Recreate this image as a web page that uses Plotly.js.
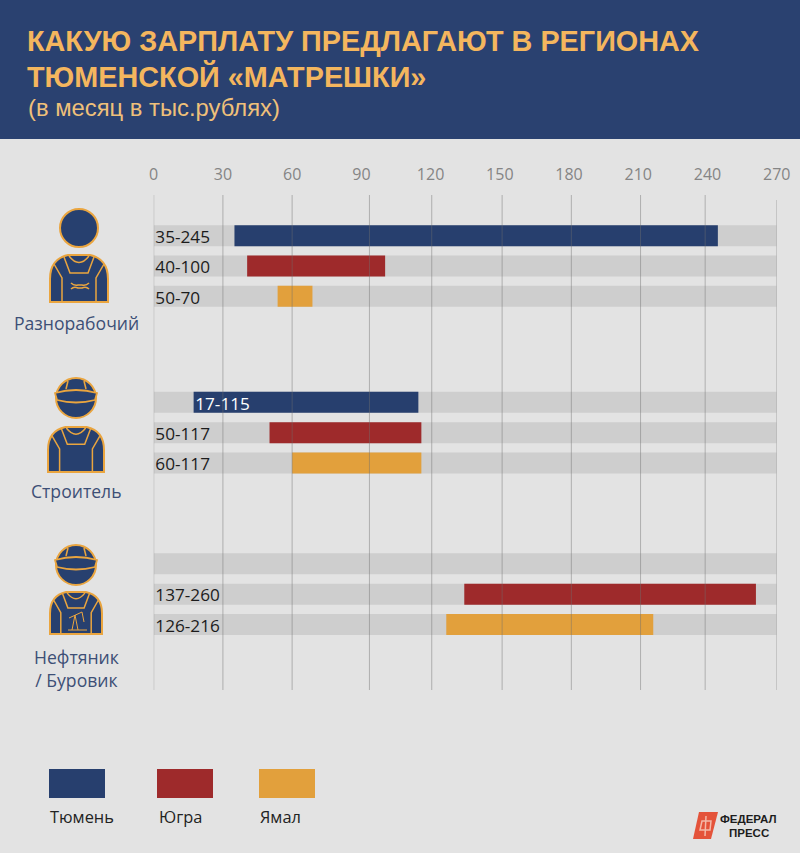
<!DOCTYPE html>
<html>
<head>
<meta charset="utf-8">
<script src="https://cdn.plot.ly/plotly-3.0.1.min.js"></script>
<style>html,body{margin:0;padding:0;background:#e3e3e3}</style>
</head>
<body>
<div id="chart" style="width:800px;height:853px"></div>
<script>
var professions = ['Разнорабочий', 'Строитель', 'Нефтяник<br>/ Буровик'];
var regions = ['Тюмень', 'Югра', 'Ямал'];
var regionColors = ['#273f6e', '#9e2a2b', '#e2a03c'];

// начало и конец полос (по профессиям)
var tyumenFrom = [35, 17.3, null];
var tyumenTo = [244.5, 114.7, null];
var yugraFrom = [40.5, 50.2, 134.6];
var yugraTo = [100.3, 116, 261];
var yamalFrom = [53.7, 60, 126.8];
var yamalTo = [68.8, 116, 216.5];

var tyumenLabels = ['35-245', '17-115', ''];
var yugraLabels = ['40-100', '50-117', '137-260'];
var yamalLabels = ['50-70', '60-117', '126-216'];

var tickValues = [0, 30, 60, 90, 120, 150, 180, 210, 240, 270];
// линии сетки на оригинале стоят не совсем ровно
var gridValues = [0, 30, 60, 93.5, 120.5, 151, 181, 211, 239, 270];

var W = 800, H = 853;
var plotTop = 190, plotBottom = 690;
var rowStep = 30.3, firstRow = 235.7, barPx = 21;
var groupOffset = [0, 5.5, 10.83];
var labelShiftX = 0.7, labelShiftY = 0.1;

function toPaper(path) {
  return path.replace(/(-?[\d.]+),(-?[\d.]+)/g, function (m, x, y) {
    return (x / W) + ',' + (1 - y / H);
  });
}
function py(y) { return 1 - y / H; }

function rows(s) {
  return professions.map(function (p, g) { return groupOffset[g] + s; });
}

function rangeTrace(s, from, to) {
  return {
    type: 'bar', orientation: 'h', name: regions[s],
    y: rows(s),
    base: from,
    x: to.map(function (v, i) { return v === null ? null : v - from[i]; }),
    width: barPx / rowStep,
    marker: {color: regionColors[s]},
    hoverinfo: 'skip'
  };
}

var allRows = rows(0).concat(rows(1), rows(2));
var allLabels = tyumenLabels.concat(yugraLabels, yamalLabels);
var allFrom = tyumenFrom.concat(yugraFrom, yamalFrom);

var data = [
  {
    type: 'bar', orientation: 'h',
    y: allRows,
    x: allRows.map(function () { return tickValues[tickValues.length - 1]; }),
    width: barPx / rowStep,
    marker: {color: '#cecece'},
    hoverinfo: 'skip'
  },
  rangeTrace(0, tyumenFrom, tyumenTo),
  rangeTrace(1, yugraFrom, yugraTo),
  rangeTrace(2, yamalFrom, yamalTo),
  {
    type: 'scatter', mode: 'text',
    y: allRows.map(function (r) { return r + labelShiftY; }),
    // подпись внутри полосы, если слева от нее нет места
    x: allFrom.map(function (v) { return (v !== null && v < 25 ? v : 0) + labelShiftX; }),
    text: allLabels,
    textposition: 'middle right',
    textfont: {
      family: 'Open Sans', size: 17.2,
      color: allFrom.map(function (v) { return v !== null && v < 25 ? '#ffffff' : '#1c1c1c'; })
    },
    cliponaxis: false,
    hoverinfo: 'skip'
  }
];

var shapes = [
  {type: 'rect', layer: 'below', xref: 'paper', yref: 'paper', x0: 0, x1: 1, y0: py(139), y1: 1,
    fillcolor: '#2a4170', line: {width: 0}}
];

gridValues.forEach(function (v, i) {
  shapes.push({
    type: 'line', layer: 'above', xref: 'x', yref: 'paper',
    x0: v, x1: v, y0: py(i === gridValues.length - 1 ? 200 : 195), y1: py(plotBottom),
    line: {color: 'rgba(110,110,110,0.45)', width: 1}
  });
});

// иконки
var iconBlue = '#27406f', iconLine = '#eaa53f';

function addPath(d, fill, width) {
  shapes.push({
    type: 'path', xref: 'paper', yref: 'paper', path: toPaper(d),
    fillcolor: fill || 'rgba(0,0,0,0)',
    line: {color: iconLine, width: width === undefined ? 1.5 : width}
  });
}

function addBody(cx, top, hw, h) {
  var b = top + h;
  var k = hw / 29;
  function X(v) { return (cx + v * k).toFixed(1); }
  function Y(v) { return (top + v * h / 47).toFixed(1); }
  addPath('M' + X(-29) + ',' + b + ' L' + X(-29) + ',' + Y(24) +
    ' Q' + X(-29) + ',' + Y(4) + ' ' + X(-11) + ',' + Y(0) +
    ' L' + X(11) + ',' + Y(0) +
    ' Q' + X(29) + ',' + Y(4) + ' ' + X(29) + ',' + Y(24) +
    ' L' + X(29) + ',' + b + ' Z', iconBlue, 2);
  // воротник и лямки
  addPath('M' + X(-10) + ',' + Y(1) + ' Q' + X(0) + ',' + Y(14) + ' ' + X(10) + ',' + Y(1));
  addPath('M' + X(-15) + ',' + Y(2) + ' L' + X(-9) + ',' + Y(18) + ' L' + X(9) + ',' + Y(18) + ' L' + X(15) + ',' + Y(2));
  addPath('M' + X(-25) + ',' + Y(9) + ' L' + X(-17) + ',' + Y(23) + ' L' + X(-17) + ',' + b);
  addPath('M' + X(25) + ',' + Y(9) + ' L' + X(17) + ',' + Y(23) + ' L' + X(17) + ',' + b);
}

function addHelmet(cx, cy, r) {
  shapes.push({
    type: 'circle', xref: 'paper', yref: 'paper',
    x0: (cx - r) / W, x1: (cx + r) / W, y0: py(cy + r), y1: py(cy - r),
    fillcolor: iconBlue, line: {color: iconLine, width: 2}
  });
  var by = cy - 2;
  addPath('M' + (cx - r - 1) + ',' + (by - 3) +
    ' Q' + cx + ',' + (by - 9) + ' ' + (cx + r + 1) + ',' + (by - 3) +
    ' L' + (cx + r - 1) + ',' + (by + 4) +
    ' Q' + cx + ',' + (by + 9) + ' ' + (cx - r + 1) + ',' + (by + 4) + ' Z', iconBlue, 1.8);
  addPath('M' + (cx - 8) + ',' + (cy - r + 3) + ' L' + (cx - 10) + ',' + (by - 7));
  addPath('M' + (cx + 8) + ',' + (cy - r + 3) + ' L' + (cx + 10) + ',' + (by - 7));
}

// разнорабочий
shapes.push({
  type: 'circle', xref: 'paper', yref: 'paper',
  x0: 60 / W, x1: 98 / W, y0: py(247), y1: py(209),
  fillcolor: iconBlue, line: {color: iconLine, width: 2}
});
addBody(79, 255, 29, 47);
addPath('M71,283 Q74,286 78,285 L82,285 Q86,286 89,283 M71,289 Q74,286 78,288 L82,288 Q86,286 89,289');

// строитель
addHelmet(76, 398, 20);
addBody(76, 427, 28, 45);

// нефтяник: вышка на груди
addHelmet(76, 565, 20);
addBody(76, 592, 26, 42);
addPath('M68,630 L87,630 M72,630 L75,615 L78,630 M69,618 L82,612 M82,612 L84,622', null, 1);

// легенда
var legendX = [49, 157, 259];
var legendTextX = [48, 157, 258];
regions.forEach(function (r, i) {
  shapes.push({
    type: 'rect', xref: 'paper', yref: 'paper',
    x0: legendX[i] / W, x1: (legendX[i] + 56) / W, y0: py(798), y1: py(769),
    fillcolor: regionColors[i], line: {width: 0}
  });
});

// логотип
shapes.push({
  type: 'path', xref: 'paper', yref: 'paper',
  path: toPaper('M699,812 L718,812 L711,839 L693,839 Z'),
  fillcolor: '#e4533a', line: {width: 0}
});
shapes.push({
  type: 'path', xref: 'paper', yref: 'paper',
  path: toPaper('M702,821 L711,821 L710,830 L700,830 Z M706,816 L705,836'),
  fillcolor: 'rgba(0,0,0,0)', line: {color: '#f3b9a8', width: 1.5}
});

function note(text, x, y, size, color, family, anchor) {
  return {
    text: text, xref: 'paper', yref: 'paper', x: x / W, y: py(y),
    xanchor: anchor || 'left', yanchor: 'middle', showarrow: false,
    font: {size: size, color: color, family: family || 'Open Sans'}
  };
}

var annotations = [
  note('<b>КАКУЮ ЗАРПЛАТУ ПРЕДЛАГАЮТ В РЕГИОНАХ</b>', 25, 41, 28.8, '#f4b65e', 'Liberation Sans'),
  note('<b>ТЮМЕНСКОЙ «МАТРЕШКИ»</b>', 25, 76, 28.8, '#f4b65e', 'Liberation Sans'),
  note('(в месяц в тыс.рублях)', 26, 107, 23.8, '#efc07a', 'Liberation Sans'),
  note(professions[0], 76.5, 323, 17.6, '#3d4f76', 'Open Sans', 'center'),
  note(professions[1], 76, 491, 17.6, '#3d4f76', 'Open Sans', 'center'),
  note(professions[2], 76, 668, 17.6, '#3d4f76', 'Open Sans', 'center'),
  note('<b>ФЕДЕРАЛ</b>', 748.5, 819, 11.5, '#1d1d1d', 'Liberation Sans', 'center'),
  note('<b>ПРЕСС</b>', 748.5, 832.5, 11.5, '#1d1d1d', 'Liberation Sans', 'center')
];
regions.forEach(function (r, i) {
  annotations.push(note(r, legendTextX[i], 816, 16.4, '#222222', 'Open Sans'));
});

var layout = {
  width: W, height: H,
  margin: {l: 0, r: 0, t: 0, b: 0},
  paper_bgcolor: '#e3e3e3',
  plot_bgcolor: 'rgba(0,0,0,0)',
  showlegend: false,
  barmode: 'overlay',
  xaxis: {
    domain: [153.7 / W, 776.7 / W],
    range: [0, 270],
    side: 'top',
    tickmode: 'array',
    tickvals: tickValues,
    ticktext: tickValues.map(String),
    showgrid: false, zeroline: false, showline: false, ticks: '',
    ticklabelstandoff: 6,
    tickfont: {family: 'Open Sans', size: 16, color: '#858585'}
  },
  yaxis: {
    domain: [py(plotBottom), py(plotTop)],
    range: [(plotBottom - firstRow) / rowStep, (plotTop - firstRow) / rowStep],
    visible: false
  },
  shapes: shapes,
  annotations: annotations
};

Plotly.newPlot('chart', data, layout, {displayModeBar: false, staticPlot: true});
</script>
</body>
</html>
